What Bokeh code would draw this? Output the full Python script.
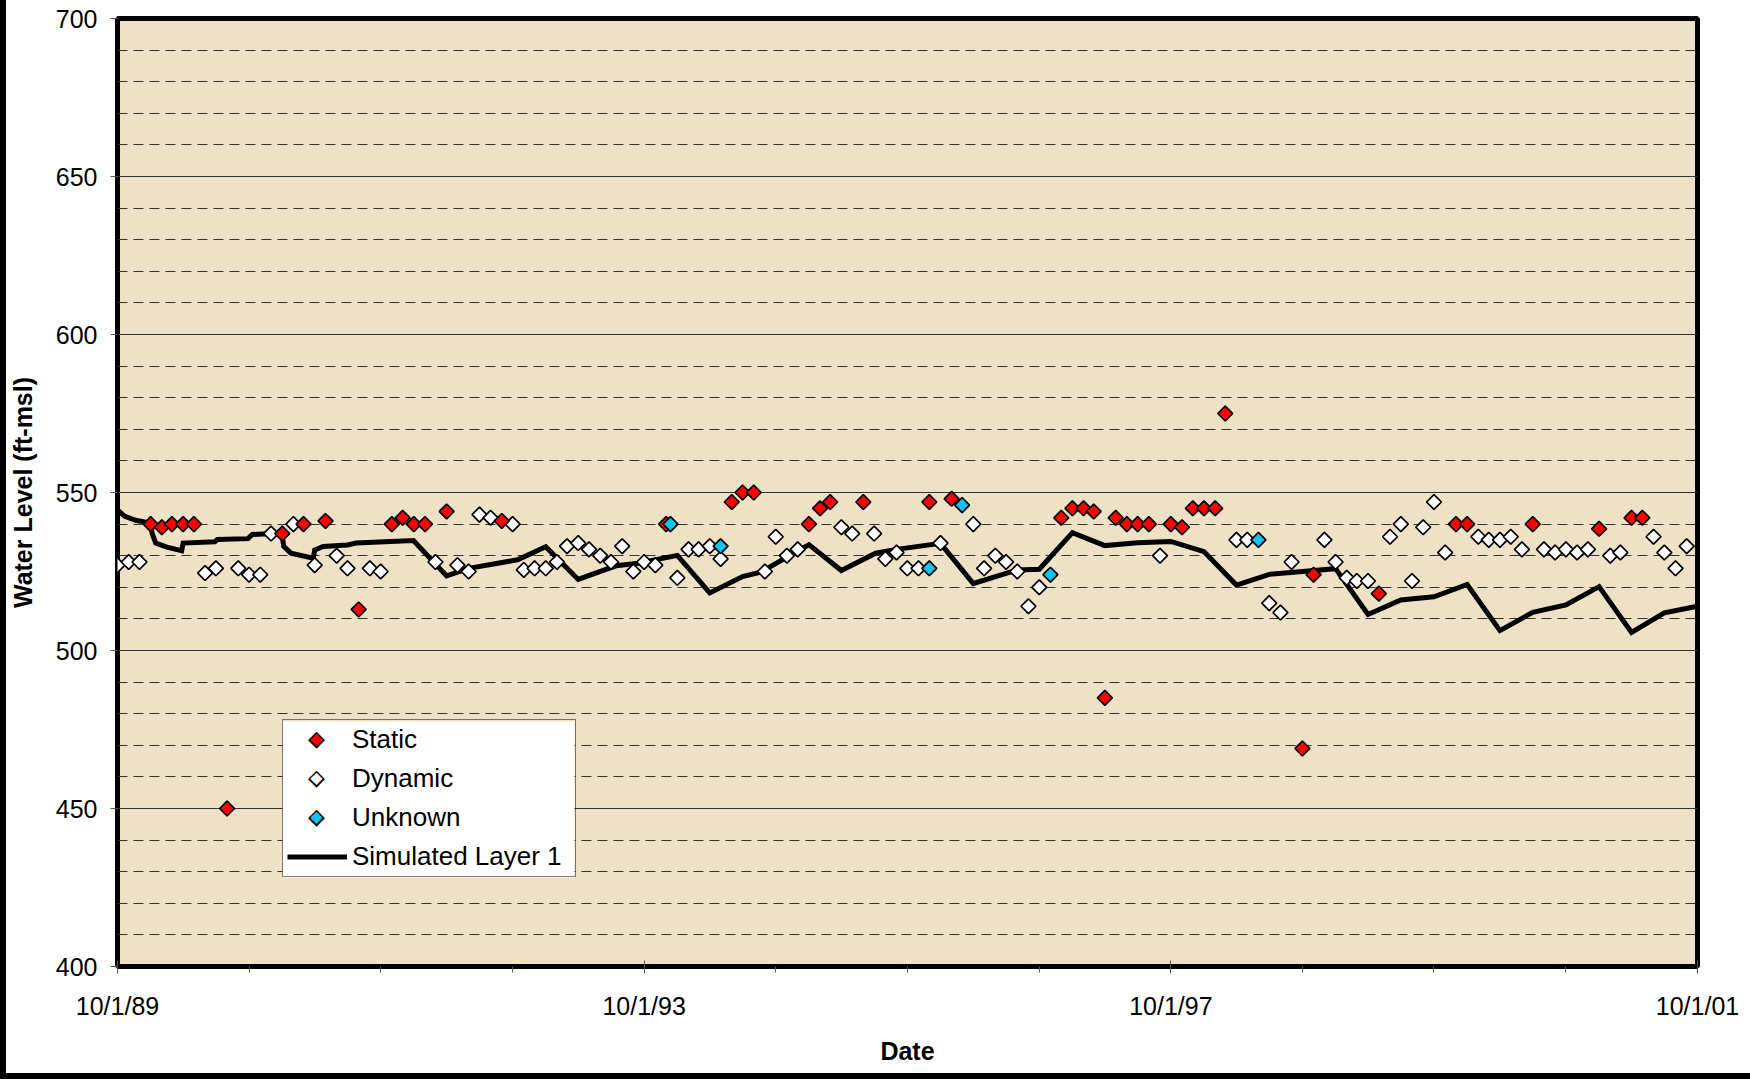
import pandas as pd
from bokeh.plotting import figure
from bokeh.models import Range1d, FixedTicker, Legend, LegendItem, Label, BoxAnnotation
from bokeh.embed import file_html
from bokeh.resources import INLINE

# ---------------- data ----------------
static_dates = ["1990-01-01", "1990-02-01", "1990-03-01", "1990-04-01", "1990-05-01", "1990-08-01",
                "1991-01-01", "1991-03-01", "1991-05-01", "1991-08-01", "1991-11-01", "1991-12-01",
                "1992-01-01", "1992-02-01", "1992-04-01", "1992-09-01", "1993-12-01", "1994-06-01",
                "1994-07-01", "1994-08-01", "1995-01-01", "1995-02-01", "1995-03-01", "1995-06-01",
                "1995-12-01", "1996-02-01", "1996-12-01", "1997-01-01", "1997-02-01", "1997-03-01",
                "1997-04-01", "1997-05-01", "1997-06-01", "1997-07-01", "1997-08-01", "1997-10-01",
                "1997-11-01", "1997-12-01", "1998-01-01", "1998-02-01", "1998-03-01", "1998-10-01",
                "1998-11-01", "1999-05-01", "1999-12-01", "2000-01-01", "2000-07-01", "2001-01-01",
                "2001-04-01", "2001-05-01"]
static_levels = [540, 539, 540, 540, 540, 450,
                 537, 540, 541, 513, 540, 542,
                 540, 540, 544, 541, 540, 547,
                 550, 550, 540, 545, 547, 547,
                 547, 548, 542, 545, 545, 544,
                 485, 542, 540, 540, 540, 540,
                 539, 545, 545, 545, 575, 469,
                 524, 518, 540, 540, 540, 538.5,
                 542, 542]

dynamic_dates = ["1989-10-01", "1989-11-01", "1989-12-01", "1990-06-01", "1990-07-01", "1990-09-01",
                 "1990-10-01", "1990-11-01", "1990-12-01", "1991-02-01", "1991-04-01", "1991-06-01",
                 "1991-07-01", "1991-09-01", "1991-10-01", "1992-03-01", "1992-05-01", "1992-06-01",
                 "1992-07-01", "1992-08-01", "1992-10-01", "1992-11-01", "1992-12-01", "1993-01-01",
                 "1993-02-01", "1993-03-01", "1993-04-01", "1993-05-01", "1993-06-01", "1993-07-01",
                 "1993-08-01", "1993-09-01", "1993-10-01", "1993-11-01", "1994-01-01", "1994-02-01",
                 "1994-03-01", "1994-04-01", "1994-05-01", "1994-09-01", "1994-10-01", "1994-11-01",
                 "1994-12-01", "1995-04-01", "1995-05-01", "1995-07-01", "1995-08-01", "1995-09-01",
                 "1995-10-01", "1995-11-01", "1996-01-01", "1996-04-01", "1996-05-01", "1996-06-01",
                 "1996-07-01", "1996-08-01", "1996-09-01", "1996-10-01", "1997-09-01", "1998-04-01",
                 "1998-05-01", "1998-07-01", "1998-08-01", "1998-09-01", "1998-12-01", "1999-01-01",
                 "1999-02-01", "1999-03-01", "1999-04-01", "1999-06-01", "1999-07-01", "1999-08-01",
                 "1999-09-01", "1999-10-01", "1999-11-01", "2000-02-01", "2000-03-01", "2000-04-01",
                 "2000-05-01", "2000-06-01", "2000-08-01", "2000-09-01", "2000-10-01", "2000-11-01",
                 "2000-12-01", "2001-02-01", "2001-03-01", "2001-06-01", "2001-07-01", "2001-08-01",
                 "2001-09-01"]
dynamic_levels = [527, 528, 528, 524.5, 526, 526,
                  524, 524, 537, 540, 527, 530,
                  526, 526, 525, 528, 527, 525,
                  543, 542, 540, 525.5, 526, 526,
                  528, 533, 534, 532, 530, 528,
                  533, 525, 528, 527, 523, 532,
                  532, 533, 529, 525, 536, 530,
                  532, 539, 537, 537, 529, 531,
                  526, 526, 534, 540, 526, 530,
                  528, 525, 514, 520, 530, 535,
                  535, 515, 512, 528, 535, 528,
                  523, 522, 522, 536, 540, 522,
                  539, 547, 531, 536, 535, 535,
                  536, 532, 532, 531, 532, 531,
                  532, 530, 531, 536, 531, 526,
                  533]

unknown_dates = ["1993-12-13", "1994-05-01", "1995-12-01", "1996-03-01", "1996-11-01", "1998-06-01"]
unknown_levels = [540, 533, 526, 546, 524, 535]

sim_dates = ["1989-10-01", "1989-10-20", "1989-11-20", "1990-01-01", "1990-01-05", "1990-01-15",
             "1990-02-15", "1990-03-28", "1990-04-01", "1990-06-28", "1990-07-05", "1990-09-28",
             "1990-10-10", "1990-12-31", "1991-01-05", "1991-01-25", "1991-03-28", "1991-04-01",
             "1991-04-25", "1991-07-01", "1991-07-25", "1991-12-31", "1992-04-01", "1992-06-01",
             "1992-10-15", "1993-01-01", "1993-04-01", "1993-07-15", "1993-09-15", "1994-01-01",
             "1994-04-01", "1994-07-01", "1994-08-20", "1995-01-01", "1995-04-01", "1995-07-05",
             "1995-09-01", "1996-01-01", "1996-04-01", "1996-08-01", "1996-10-01", "1997-01-01",
             "1997-04-01", "1997-07-01", "1997-10-01", "1998-01-01", "1998-04-01", "1998-07-01",
             "1998-10-01", "1999-01-01", "1999-04-01", "1999-07-01", "1999-10-01", "2000-01-01",
             "2000-04-01", "2000-07-01", "2000-10-01", "2001-01-01", "2001-04-01", "2001-07-01",
             "2001-10-01"]
sim_levels = [544.5, 542.5, 541.2, 540.3, 537.1, 534.0,
              532.7, 531.6, 534.0, 534.4, 535.1, 535.4,
              536.7, 537.2, 533.0, 530.8, 529.2, 531.8,
              532.9, 533.4, 534.0, 534.8, 523.6, 526.0,
              528.7, 532.8, 522.5, 526.8, 527.6, 530.1,
              518.2, 523.4, 524.8, 533.5, 525.3, 530.8,
              532.0, 533.9, 521.2, 525.5, 525.7, 537.3,
              533.2, 534.1, 534.5, 531.3, 520.7, 524.1,
              525.0, 525.9, 511.4, 516.0, 517.0, 520.9,
              506.3, 512.1, 514.4, 520.2, 505.7, 511.9,
              514.0]

x_tick_dates = ["1989-10-01", "1993-10-01", "1997-10-01", "2001-10-01"]
x_tick_labels = ["10/1/89", "10/1/93", "10/1/97", "10/1/01"]
x_minor_dates = ["%d-10-01" % y for y in range(1989, 2002)]
y_ticks = [400, 450, 500, 550, 600, 650, 700]
y_minor_ticks = list(range(400, 701, 10))

series_labels = ["Static", "Dynamic", "Unknown", "Simulated Layer 1"]
marker_fills = ["#FF0000", "#FFFFFF", "#14C3F0"]


def ms(d):
    return int(pd.Timestamp(d).value // 10**6)


FONT = "Liberation Sans"
BG = "#EEE1C6"

p = figure(width=1750, height=1079, x_axis_type="datetime",
           output_backend="svg", toolbar_location=None,
           x_range=Range1d(ms("1989-10-01"), ms("2001-10-01")),
           y_range=Range1d(400, 700),
           min_border_left=117, min_border_right=53,
           min_border_top=18, min_border_bottom=113,
           background_fill_color=BG, border_fill_color="white", border_fill_alpha=0.0,
           outline_line_color="black", outline_line_width=5,
           styles={"background-color": "white",
                   "box-shadow": "inset 6px -6px 0 0 black"})

# axes
major_ms = [ms(d) for d in x_tick_dates]
p.xaxis.ticker = FixedTicker(ticks=major_ms, minor_ticks=[ms(d) for d in x_minor_dates])
p.xaxis.major_label_overrides = dict(zip(major_ms, x_tick_labels))
p.yaxis.ticker = FixedTicker(ticks=y_ticks, minor_ticks=y_minor_ticks)

for ax in (p.xaxis[0], p.yaxis[0]):
    ax.axis_line_color = None
    ax.major_tick_line_color = "#555555"
    ax.minor_tick_line_color = "#555555"
    ax.major_label_text_font = FONT
    ax.major_label_text_font_size = "25px"
    ax.major_label_text_color = "black"
    ax.axis_label_text_font = FONT
    ax.axis_label_text_font_size = "25px"
    ax.axis_label_text_font_style = "bold"
    ax.axis_label_text_color = "black"

p.yaxis.axis_label = "Water Level (ft-msl)"
p.yaxis.major_tick_in = 0
p.yaxis.major_tick_out = 7
p.yaxis.minor_tick_in = 0
p.yaxis.minor_tick_out = 0
p.yaxis.major_label_standoff = 13
p.yaxis.axis_label_standoff = 16

p.xaxis.axis_label = "Date"
p.xaxis.major_tick_in = 6
p.xaxis.major_tick_out = 7
p.xaxis.minor_tick_in = 0
p.xaxis.minor_tick_out = 6
p.xaxis.major_label_standoff = 18
p.xaxis.axis_label_standoff = 14

# grid
p.xgrid.grid_line_color = None
p.ygrid.grid_line_color = "#333333"
p.ygrid.grid_line_width = 1
p.ygrid.minor_grid_line_color = "#333333"
p.ygrid.minor_grid_line_width = 1
p.ygrid.minor_grid_line_dash = "10 6"

# glyphs
r_sim = p.line([ms(d) for d in sim_dates], sim_levels, line_color="black",
               line_width=5, line_join="miter")
ANG = 0.7853981634
MS = 10.5
r_dyn = p.scatter([ms(d) for d in dynamic_dates], dynamic_levels, marker="square",
                  size=MS, angle=ANG, fill_color=marker_fills[1], line_color="black", line_width=1.7)
r_sta = p.scatter([ms(d) for d in static_dates], static_levels, marker="square",
                  size=MS, angle=ANG, fill_color=marker_fills[0], line_color="black", line_width=1.7)
r_unk = p.scatter([ms(d) for d in unknown_dates], unknown_levels, marker="square",
                  size=MS, angle=ANG, fill_color=marker_fills[2], line_color="black", line_width=1.7)

# legend: white box + rotated marker samples drawn underneath a transparent Legend
blank = [p.scatter(x=[], y=[], marker="square", fill_alpha=0, line_alpha=0) for _ in range(3)]
LEG_X, LEG_Y = 165, 89          # bottom-left offset of the legend from the frame (px)
PAD, SPACING, ROW_H, GLYPH_W, STANDOFF, LABEL_W = 4, 8, 31, 60, 5, 219
leg_h = 4 * ROW_H + 3 * SPACING + 2 * PAD
leg_w = PAD + GLYPH_W + STANDOFF + LABEL_W + PAD

p.add_layout(BoxAnnotation(left=LEG_X, right=LEG_X + leg_w, bottom=LEG_Y, top=LEG_Y + leg_h,
                           left_units="screen", right_units="screen",
                           bottom_units="screen", top_units="screen",
                           fill_color="white", fill_alpha=1.0, line_color=None))
for i, fc in enumerate(marker_fills):
    cy = LEG_Y + leg_h - PAD - i * (ROW_H + SPACING) - ROW_H / 2 + 3
    cx = LEG_X + PAD + GLYPH_W / 2
    p.add_layout(Label(x=cx, y=cy, x_units="screen", y_units="screen", text="\u25C6",
                       text_font="DejaVu Sans", text_font_size="22px",
                       text_align="center", text_baseline="middle",
                       text_color="#000000"))
    p.add_layout(Label(x=cx, y=cy, x_units="screen", y_units="screen", text="\u25C6",
                       text_font="DejaVu Sans", text_font_size="16px",
                       text_align="center", text_baseline="middle",
                       text_color=fc))

legend = Legend(items=[LegendItem(label=series_labels[0], renderers=[blank[0]]),
                       LegendItem(label=series_labels[1], renderers=[blank[1]]),
                       LegendItem(label=series_labels[2], renderers=[blank[2]]),
                       LegendItem(label=series_labels[3], renderers=[r_sim])],
                location=(LEG_X, LEG_Y), orientation="vertical",
                padding=PAD, spacing=SPACING, margin=0,
                glyph_width=GLYPH_W, glyph_height=27, label_height=30, label_width=LABEL_W,
                label_standoff=STANDOFF, label_text_font=FONT, label_text_font_size="26px",
                label_text_color="black",
                border_line_color="black", border_line_width=1.5,
                background_fill_alpha=0.0)
p.add_layout(legend)

open("out.html", "w").write(file_html(p, INLINE))
